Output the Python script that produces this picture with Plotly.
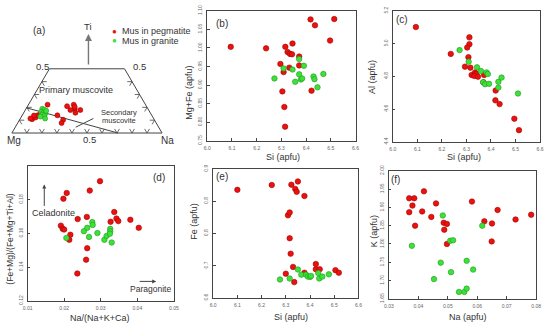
import plotly.graph_objects as go
import math

W, H = 550, 330
FONT = "Liberation Sans, Arial, sans-serif"
RED, RED_E = "#e8130f", "#a80000"
GRN, GRN_E = "#3ee03a", "#1f9a1f"

# ---------------- data ----------------
# (a) ternary Mg-Ti-Na (fractions of Ti and Na; Mg = rest)
a_peg_ti = [0.108, 0.121, 0.138, 0.146, 0.136, 0.113, 0.221, 0.138, 0.103, 0.078, 0.209, 0.221, 0.189, 0.158, 0.179, 0.179, 0.204]
a_peg_na = [0.081, 0.097, 0.103, 0.115, 0.079, 0.067, 0.127, 0.234, 0.290, 0.292, 0.263, 0.301, 0.324, 0.344, 0.366, 0.300, 0.316]
a_gra_ti = [0.189, 0.181, 0.166, 0.158, 0.151, 0.143, 0.132, 0.113, 0.128, 0.173]
a_gra_na = [0.108, 0.125, 0.113, 0.130, 0.146, 0.131, 0.150, 0.165, 0.126, 0.142]
a_bound_ti = [0.196, 0.0]
a_bound_na = [0.0, 0.706]

# (b) Si vs Mg+Fe
b_peg_si = [6.095, 6.238, 6.316, 6.345, 6.325, 6.335, 6.343, 6.372, 6.372, 6.296, 6.332, 6.309, 6.304, 6.312, 6.315, 6.418, 6.436, 6.514, 6.497, 6.422]
b_peg_y = [1.003, 0.999, 1.003, 1.012, 0.989, 0.984, 0.983, 0.977, 0.953, 0.957, 0.947, 0.935, 0.883, 0.841, 0.788, 1.077, 1.061, 1.078, 1.020, 0.885]
b_gra_si = [6.272, 6.309, 6.345, 6.372, 6.391, 6.372, 6.356, 6.379, 6.384, 6.430, 6.434, 6.470, 6.446]
b_gra_y = [0.918, 0.945, 0.942, 0.970, 0.952, 0.929, 0.909, 0.915, 0.918, 0.923, 0.916, 0.930, 0.894]

# (c) Si vs Al
c_peg_si = [6.094, 6.312, 6.312, 6.303, 6.236, 6.308, 6.294, 6.316, 6.321, 6.335, 6.339, 6.332, 6.347, 6.369, 6.372, 6.419, 6.418, 6.435, 6.495, 6.514]
c_peg_al = [5.101, 5.038, 4.996, 4.976, 4.937, 4.917, 4.859, 4.853, 4.808, 4.824, 4.814, 4.802, 4.798, 4.764, 4.808, 4.713, 4.653, 4.630, 4.541, 4.471]
c_gra_si = [6.272, 6.309, 6.343, 6.359, 6.382, 6.387, 6.368, 6.376, 6.392, 6.430, 6.430, 6.443, 6.510]
c_gra_al = [4.960, 4.889, 4.855, 4.832, 4.824, 4.814, 4.764, 4.752, 4.754, 4.766, 4.731, 4.792, 4.695]

# (d) Na/(Na+K+Ca) vs (Fe+Mg)/(Fe+Mg+Ti+Al)
d_peg_x = [0.0298, 0.0270, 0.0207, 0.0198, 0.0237, 0.0262, 0.0337, 0.0327, 0.0343, 0.0348, 0.0381, 0.0404, 0.0191, 0.0196, 0.0200, 0.0217, 0.0214, 0.0263, 0.0260, 0.0236]
d_peg_y = [0.1910, 0.1854, 0.1840, 0.1806, 0.1685, 0.1698, 0.1727, 0.1669, 0.1688, 0.1673, 0.1681, 0.1633, 0.1646, 0.1627, 0.1623, 0.1592, 0.1562, 0.1512, 0.1444, 0.1362]
d_gra_x = [0.0206, 0.0254, 0.0263, 0.0277, 0.0278, 0.0268, 0.0291, 0.0310, 0.0316, 0.0326, 0.0326, 0.0325, 0.0330]
d_gra_y = [0.1573, 0.1613, 0.1633, 0.1667, 0.1650, 0.1579, 0.1602, 0.1562, 0.1585, 0.1627, 0.1612, 0.1598, 0.1546]

# (e) Si vs Fe
e_peg_si = [6.100, 6.242, 6.323, 6.350, 6.339, 6.345, 6.377, 6.309, 6.316, 6.316, 6.320, 6.330, 6.300, 6.335, 6.377, 6.424, 6.424, 6.440, 6.505, 6.519]
e_peg_fe = [0.885, 0.900, 0.901, 0.911, 0.888, 0.879, 0.866, 0.806, 0.815, 0.735, 0.687, 0.646, 0.625, 0.599, 0.628, 0.655, 0.639, 0.639, 0.636, 0.628]
e_gra_si = [6.276, 6.316, 6.350, 6.364, 6.384, 6.391, 6.400, 6.434, 6.438, 6.451, 6.478, 6.404]
e_gra_fe = [0.607, 0.610, 0.638, 0.622, 0.622, 0.616, 0.615, 0.627, 0.610, 0.616, 0.623, 0.618]

# (f) Na vs K
f_peg_na = [0.0369, 0.0386, 0.0419, 0.0380, 0.0369, 0.0413, 0.0460, 0.0444, 0.0389, 0.0486, 0.0497, 0.0488, 0.0497, 0.0582, 0.0624, 0.0650, 0.0669, 0.0649, 0.0730, 0.0783]
f_peg_k = [1.925, 1.925, 1.944, 1.905, 1.887, 1.889, 1.911, 1.874, 1.850, 1.858, 1.855, 1.839, 1.800, 1.916, 1.862, 1.856, 1.893, 1.807, 1.867, 1.880]
f_gra_na = [0.0483, 0.0617, 0.0378, 0.0508, 0.0518, 0.0476, 0.0511, 0.0564, 0.0586, 0.0453, 0.0538, 0.0556, 0.0564]
f_gra_k = [1.878, 1.850, 1.795, 1.809, 1.810, 1.749, 1.723, 1.754, 1.730, 1.704, 1.669, 1.669, 1.678]

legend_labels = ["Mus in pegmatite", "Mus in granite"]

# ---------------- layout helpers ----------------
def xd(l, r):
    return [l / W, r / W]

def yd(t, b):
    return [1 - b / H, 1 - t / H]

fig = go.Figure()

def pts(x, y, xa, ya, color, edge, size=5.5, name=None):
    fig.add_trace(go.Scatter(x=x, y=y, xaxis=xa, yaxis=ya, mode="markers", name=name,
                             showlegend=False,
                             marker=dict(size=size, color=color, line=dict(color=edge, width=0.6))))

# ---------------- (a) ternary ----------------
S3 = math.sqrt(3) / 2

def cart(ti, na):
    return [n + t / 2 for t, n in zip(ti, na)], [t * S3 for t in ti]

LINE = "#444444"
ox, oy = cart([0, 0, 0.5, 0.5, 0], [0, 1, 0.5, 0, 0])
fig.add_trace(go.Scatter(x=ox, y=oy, xaxis="x7", yaxis="y7", mode="lines",
                         line=dict(color=LINE, width=1), showlegend=False, hoverinfo="skip"))
L = 0.032
tx, ty = [], []
for k in range(1, 10):
    bx, by = cart([0], [k / 10])
    for dxv, dyv in [(0.5, S3), (-0.5, S3)]:
        tx += [bx[0], bx[0] + L * dxv, None]
        ty += [by[0], by[0] + L * dyv, None]
for k in range(1, 5):
    lx, ly = cart([k / 10], [0])
    for dxv, dyv in [(1, 0), (0.5, -S3)]:
        tx += [lx[0], lx[0] + L * dxv, None]
        ty += [ly[0], ly[0] + L * dyv, None]
    rx, ry = cart([k / 10], [1 - k / 10])
    for dxv, dyv in [(-1, 0), (-0.5, -S3)]:
        tx += [rx[0], rx[0] + L * dxv, None]
        ty += [ry[0], ry[0] + L * dyv, None]
fig.add_trace(go.Scatter(x=tx, y=ty, xaxis="x7", yaxis="y7", mode="lines",
                         line=dict(color=LINE, width=0.8), showlegend=False, hoverinfo="skip"))
bx, by = cart(a_bound_ti, a_bound_na)
fig.add_trace(go.Scatter(x=bx, y=by, xaxis="x7", yaxis="y7", mode="lines",
                         line=dict(color=LINE, width=1), showlegend=False, hoverinfo="skip"))
px_, py_ = cart(a_peg_ti, a_peg_na)
pts(px_, py_, "x7", "y7", RED, RED_E, size=5, name=legend_labels[0])
gx_, gy_ = cart(a_gra_ti, a_gra_na)
pts(gx_, gy_, "x7", "y7", GRN, GRN_E, size=5, name=legend_labels[1])

# ---------------- scatter panels ----------------
pts(b_peg_si, b_peg_y, "x", "y", RED, RED_E)
pts(b_gra_si, b_gra_y, "x", "y", GRN, GRN_E)
pts(c_peg_si, c_peg_al, "x2", "y2", RED, RED_E)
pts(c_gra_si, c_gra_al, "x2", "y2", GRN, GRN_E)
pts(d_peg_x, d_peg_y, "x3", "y3", RED, RED_E)
pts(d_gra_x, d_gra_y, "x3", "y3", GRN, GRN_E)
pts(e_peg_si, e_peg_fe, "x4", "y4", RED, RED_E)
pts(e_gra_si, e_gra_fe, "x4", "y4", GRN, GRN_E)
pts(f_peg_na, f_peg_k, "x5", "y5", RED, RED_E)
pts(f_gra_na, f_gra_k, "x5", "y5", GRN, GRN_E)

TICKF = dict(size=5, color="#666666", family=FONT)

def ax(domain, rng, dtick, fmt, anchor, angle=0):
    return dict(domain=domain, range=rng, dtick=dtick, tick0=rng[0], tickformat=fmt,
                anchor=anchor, showgrid=False, zeroline=False, showline=True, mirror=True,
                linecolor="#444444", linewidth=1, ticks="inside", ticklen=2.5,
                tickcolor="#444444", tickfont=TICKF, tickangle=angle, ticklabelstandoff=2)

si_x = [6.0, 6.6]
layout = dict(
    width=W, height=H, margin=dict(l=0, r=0, t=0, b=0),
    paper_bgcolor="white", plot_bgcolor="white", showlegend=False,
    font=dict(family=FONT, color="#333333"),
    xaxis=ax(xd(206, 357), si_x, 0.1, ".1f", "y"),
    yaxis=ax(yd(5, 139), [0.75, 1.10], 0.05, ".2f", "x", -90),
    xaxis2=ax(xd(395, 545), si_x, 0.1, ".1f", "y2"),
    yaxis2=ax(yd(5, 140), [4.4, 5.2], 0.2, ".1f", "x2", -90),
    xaxis3=ax(xd(23, 172), [0.01, 0.05], 0.01, ".2f", "y3"),
    yaxis3=ax(yd(165, 304), [0.12, 0.20], 0.02, ".2f", "x3", -90),
    xaxis4=ax(xd(212, 360), si_x, 0.1, ".1f", "y4"),
    yaxis4=ax(yd(168, 301), [0.55, 0.95], 0.1, ".1f", "x4", -90),
    xaxis5=ax(xd(391, 541), [0.03, 0.08], 0.01, ".2f", "y5"),
    yaxis5=ax(yd(170, 302), [1.65, 2.00], 0.05, ".2f", "x5", -90),
    xaxis7=dict(domain=xd(0, 185), range=[-7 / 153, 178 / 153], visible=False, anchor="y7"),
    yaxis7=dict(domain=yd(0, 160), range=[-29 / 153, 131 / 153], visible=False, anchor="x7"),
)
layout["yaxis3"]["tickvals"] = [0.12, 0.14, 0.16, 0.18]
fig.update_layout(**layout)

def txt(x, y, s, size=9, angle=0, xanchor="center", color="#333333"):
    fig.add_annotation(x=x / W, y=1 - y / H, xref="paper", yref="paper", text=s, showarrow=False,
                       textangle=angle, xanchor=xanchor, yanchor="middle",
                       font=dict(size=size, color=color, family=FONT))

def arrow(x, y, axp, ayp, color="#444444", width=1, size=0.8):
    fig.add_annotation(x=x / W, y=1 - y / H, xref="paper", yref="paper", ax=axp, ay=ayp,
                       text="", showarrow=True, arrowhead=2, arrowsize=size,
                       arrowwidth=width, arrowcolor=color)

# legend (manual)
txt(112, 26, "●", 8, color=RED)
txt(117, 26, legend_labels[0], 9, xanchor="left")
txt(112, 36, "●", 8, color=GRN)
txt(117, 36, legend_labels[1], 9, xanchor="left")

# panel (a) texts
txt(35, 25, "(a)", 10)
txt(85, 21, "Ti", 9.5)
txt(38, 62, "0.5", 9.5)
txt(137, 62, "0.5", 9.5)
txt(86, 138, "0.5", 9.5)
txt(9, 139, "Mg", 10)
txt(166, 139, "Na", 10)
txt(72, 87, "Primary muscovite", 9)
txt(116, 110, "Secondary", 7.5)
txt(116, 118, "muscovite", 7.5)
arrow(85, 29, 0, 32, color="#777777", width=1.4, size=1)
fig.add_shape(type="line", xref="paper", yref="paper", x0=72 / W, y0=1 - 125 / H, x1=90 / W, y1=1 - 116 / H,
              line=dict(color=LINE, width=1))

# panel labels
txt(221, 18, "(b)", 10)
txt(404, 14, "(c)", 10)
txt(157, 177, "(d)", 10)
txt(221, 176, "(e)", 10)
txt(398, 179, "(f)", 10)

# axis titles
txt(283, 156, "Si (apfu)", 9)
txt(468, 156, "Si (apfu)", 9)
txt(97, 322, "Na/(Na+K+Ca)", 9)
txt(291, 321, "Si (apfu)", 9)
txt(472, 321, "Na (apfu)", 9)
txt(188, 90, "Mg+Fe (apfu)", 9, -90)
txt(374, 73, "Al (apfu)", 9, -90)
txt(5, 240, "(Fe+Mg)/(Fe+Mg+Ti+Al)", 8.5, -90)
txt(193, 222, "Fe (apfu)", 9, -90)
txt(376, 232, "K (apfu)", 9, -90)

# (d) annotations
txt(49, 213, "Celadonite", 9)
txt(148, 292, "Paragonite", 8.5)
arrow(40, 184, 0, 23)
arrow(154, 284, -18, 0)

fig.write_html("out.html", config={"displayModeBar": False},
               post_script="document.body.style.margin='0';document.body.style.overflow='hidden';")
